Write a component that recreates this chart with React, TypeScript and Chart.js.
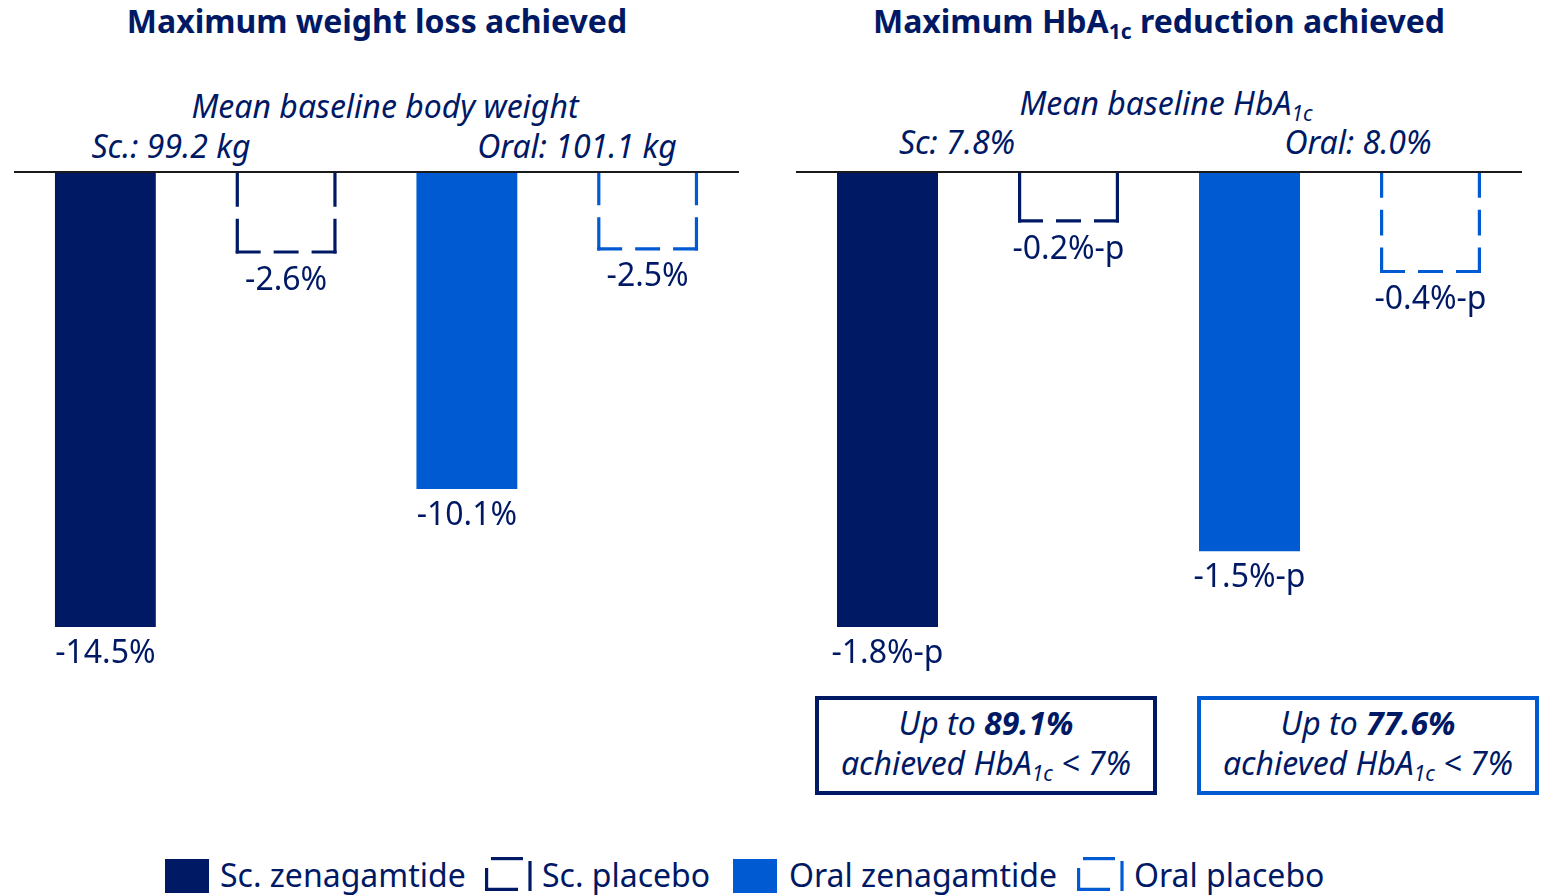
import React, { useEffect, useRef } from "react";
import { Chart, registerables } from "chart.js";

Chart.register(...registerables);

const NAVY = "#001965";
const BLUE = "#005AD2";
const FONT = "'Noto Sans', 'Open Sans', sans-serif";

// ---- data ----
const groups = ["Sc. zenagamtide", "Sc. placebo", "Oral zenagamtide", "Oral placebo"];
const weightValues = [-14.5, -2.6, -10.1, -2.5];
const weightLabels = ["-14.5%", "-2.6%", "-10.1%", "-2.5%"];
const hba1cValues = [-1.8, -0.2, -1.5, -0.4];
const hba1cLabels = ["-1.8%-p", "-0.2%-p", "-1.5%-p", "-0.4%-p"];
const groupColors = [NAVY, NAVY, BLUE, BLUE];
const groupDashed = [false, true, false, true];
const weightAxisMin = -14.5;
const hba1cAxisMin = -1.8;
const baselineWeight = ["Sc.: 99.2 kg", "Oral: 101.1 kg"];
const baselineHbA1c = ["Sc: 7.8%", "Oral: 8.0%"];
const achievedShare = ["89.1%", "77.6%"];

function dashedLine(ctx: CanvasRenderingContext2D, x1: number, y1: number, x2: number, y2: number, dash: number, gap: number) {
  const len = Math.hypot(x2 - x1, y2 - y1);
  const n = Math.max(1, Math.round((len + gap) / (dash + gap)));
  const d = (len - (n - 1) * gap) / n;
  ctx.setLineDash([d, gap]);
  ctx.beginPath();
  ctx.moveTo(x1, y1);
  ctx.lineTo(x2, y2);
  ctx.stroke();
}

const barExtras = {
  id: "barExtras",
  afterDatasetsDraw(chart: any, _args: any, opts: any) {
    const ctx: CanvasRenderingContext2D = chart.ctx;
    const meta = chart.getDatasetMeta(0);
    const zero = chart.scales.y.getPixelForValue(0);
    ctx.save();
    meta.data.forEach((bar: any, i: number) => {
      const { x, y, width } = bar.getProps(["x", "y", "width"], true);
      const l = x - width / 2;
      const r = x + width / 2;
      if (opts.dashed[i]) {
        const lw = 3.2;
        ctx.strokeStyle = opts.colors[i];
        ctx.lineWidth = lw;
        ctx.lineCap = "butt";
        const il = l + lw / 2;
        const ir = r - lw / 2;
        const ib = y - lw / 2;
        dashedLine(ctx, il, zero, il, ib + lw / 2, 32, 12);
        dashedLine(ctx, ir, zero, ir, ib + lw / 2, 32, 12);
        dashedLine(ctx, l, ib, r, ib, 32, 13);
        ctx.setLineDash([]);
      }
      ctx.fillStyle = NAVY;
      ctx.font = `32px ${FONT}`;
      ctx.textAlign = "center";
      ctx.textBaseline = "alphabetic";
      ctx.fillText(opts.labels[i], x, y + 36);
    });
    ctx.strokeStyle = "#1a1a1a";
    ctx.lineWidth = 2;
    ctx.setLineDash([]);
    ctx.beginPath();
    ctx.moveTo(chart.chartArea.left - 1, zero);
    ctx.lineTo(chart.chartArea.right + 1, zero);
    ctx.stroke();
    ctx.restore();
  },
};

type PanelProps = {
  values: number[];
  labels: string[];
  min: number;
  left: number;
  width: number;
  padding: { left: number; right: number; top: number; bottom: number };
};

function BarPanel({ values, labels, min, left, width, padding }: PanelProps) {
  const ref = useRef<HTMLCanvasElement | null>(null);
  useEffect(() => {
    if (!ref.current) return;
    const chart = new Chart(ref.current, {
      type: "bar",
      data: {
        labels: groups,
        datasets: [
          {
            data: values,
            backgroundColor: groupColors.map((c, i) => (groupDashed[i] ? "rgba(0,0,0,0)" : c)),
            borderWidth: 0,
            barPercentage: 0.558,
            categoryPercentage: 1,
          },
        ],
      },
      options: {
        animation: false,
        responsive: true,
        maintainAspectRatio: false,
        layout: { padding },
        scales: {
          x: { display: false },
          y: { display: false, min, max: 0 },
        },
        plugins: {
          legend: { display: false },
          tooltip: { enabled: false },
          barExtras: { labels, dashed: groupDashed, colors: groupColors },
        } as any,
      },
      plugins: [barExtras],
    });
    return () => chart.destroy();
  }, []);
  return (
    <div style={{ position: "absolute", left, top: 150, width, height: 540 }}>
      <canvas ref={ref} />
    </div>
  );
}

function Txt({
  x,
  baseline,
  size,
  align = "center",
  weight = 400,
  italic = false,
  color = NAVY,
  children,
}: {
  x: number;
  baseline: number;
  size: number;
  align?: "center" | "left";
  weight?: number;
  italic?: boolean;
  color?: string;
  children: React.ReactNode;
}) {
  return (
    <div
      style={{
        position: "absolute",
        left: x,
        top: baseline - 1.013 * size,
        fontFamily: FONT,
        fontSize: size,
        lineHeight: `${1.25 * size}px`,
        fontWeight: weight,
        fontStyle: italic ? "italic" : "normal",
        color,
        whiteSpace: "nowrap",
        transform: align === "center" ? "translateX(-50%)" : undefined,
      }}
    >
      {children}
    </div>
  );
}

const Sub = ({ children }: { children: React.ReactNode }) => (
  <span style={{ fontSize: "0.66em", verticalAlign: "-0.3em", lineHeight: 0 }}>{children}</span>
);

function DashIcon({ x, color }: { x: number; color: string }) {
  return (
    <svg style={{ position: "absolute", left: x, top: 857 }} width={50} height={36}>
      <g stroke={color} strokeWidth={3.2} fill="none">
        <line x1={6} y1={1.6} x2={38} y2={1.6} />
        <line x1={1.6} y1={11} x2={1.6} y2={34} />
        <line x1={0} y1={32.4} x2={33} y2={32.4} />
        <line x1={45} y1={4} x2={45} y2={34} />
      </g>
    </svg>
  );
}

function Legend() {
  return (
    <>
      <div style={{ position: "absolute", left: 165, top: 859, width: 44, height: 34, background: NAVY }} />
      <Txt x={220} baseline={887} size={32} align="left">{groups[0]}</Txt>
      <DashIcon x={485} color={NAVY} />
      <Txt x={542} baseline={887} size={32} align="left">{groups[1]}</Txt>
      <div style={{ position: "absolute", left: 733, top: 859, width: 44, height: 34, background: BLUE }} />
      <Txt x={789} baseline={887} size={32} align="left">{groups[2]}</Txt>
      <DashIcon x={1077} color={BLUE} />
      <Txt x={1134} baseline={887} size={32} align="left">{groups[3]}</Txt>
    </>
  );
}

function InfoBox({ left, color, share }: { left: number; color: string; share: string }) {
  const cx = left + 171;
  return (
    <>
      <div
        style={{
          position: "absolute",
          left,
          top: 696,
          width: 342,
          height: 99,
          border: `4px solid ${color}`,
          boxSizing: "border-box",
        }}
      />
      <Txt x={cx} baseline={735} size={32} italic>
        Up to <b>{share}</b>
      </Txt>
      <Txt x={cx} baseline={775} size={32} italic>
        achieved HbA<Sub>1c</Sub> &lt; 7%
      </Txt>
    </>
  );
}

export default function App() {
  return (
    <div style={{ position: "fixed", left: 0, top: 0, width: 1542, height: 896, background: "#fff", overflow: "hidden" }}>
      <Txt x={377} baseline={33} size={32} weight={700}>Maximum weight loss achieved</Txt>
      <Txt x={1159} baseline={33} size={32} weight={700}>
        Maximum HbA<Sub>1c</Sub> reduction achieved
      </Txt>

      <Txt x={385} baseline={118} size={32} italic>Mean baseline body weight</Txt>
      <Txt x={171} baseline={158} size={32} italic>{baselineWeight[0]}</Txt>
      <Txt x={577} baseline={158} size={32} italic>{baselineWeight[1]}</Txt>

      <Txt x={1166} baseline={115} size={32} italic>
        Mean baseline HbA<Sub>1c</Sub>
      </Txt>
      <Txt x={957} baseline={154} size={32} italic>{baselineHbA1c[0]}</Txt>
      <Txt x={1358} baseline={154} size={32} italic>{baselineHbA1c[1]}</Txt>

      <BarPanel
        values={weightValues}
        labels={weightLabels}
        min={weightAxisMin}
        left={0}
        width={760}
        padding={{ left: 15, right: 22, top: 22, bottom: 63 }}
      />
      <BarPanel
        values={hba1cValues}
        labels={hba1cLabels}
        min={hba1cAxisMin}
        left={780}
        width={762}
        padding={{ left: 17, right: 21, top: 22, bottom: 63 }}
      />

      <InfoBox left={815} color={NAVY} share={achievedShare[0]} />
      <InfoBox left={1197} color={BLUE} share={achievedShare[1]} />

      <Legend />
    </div>
  );
}
